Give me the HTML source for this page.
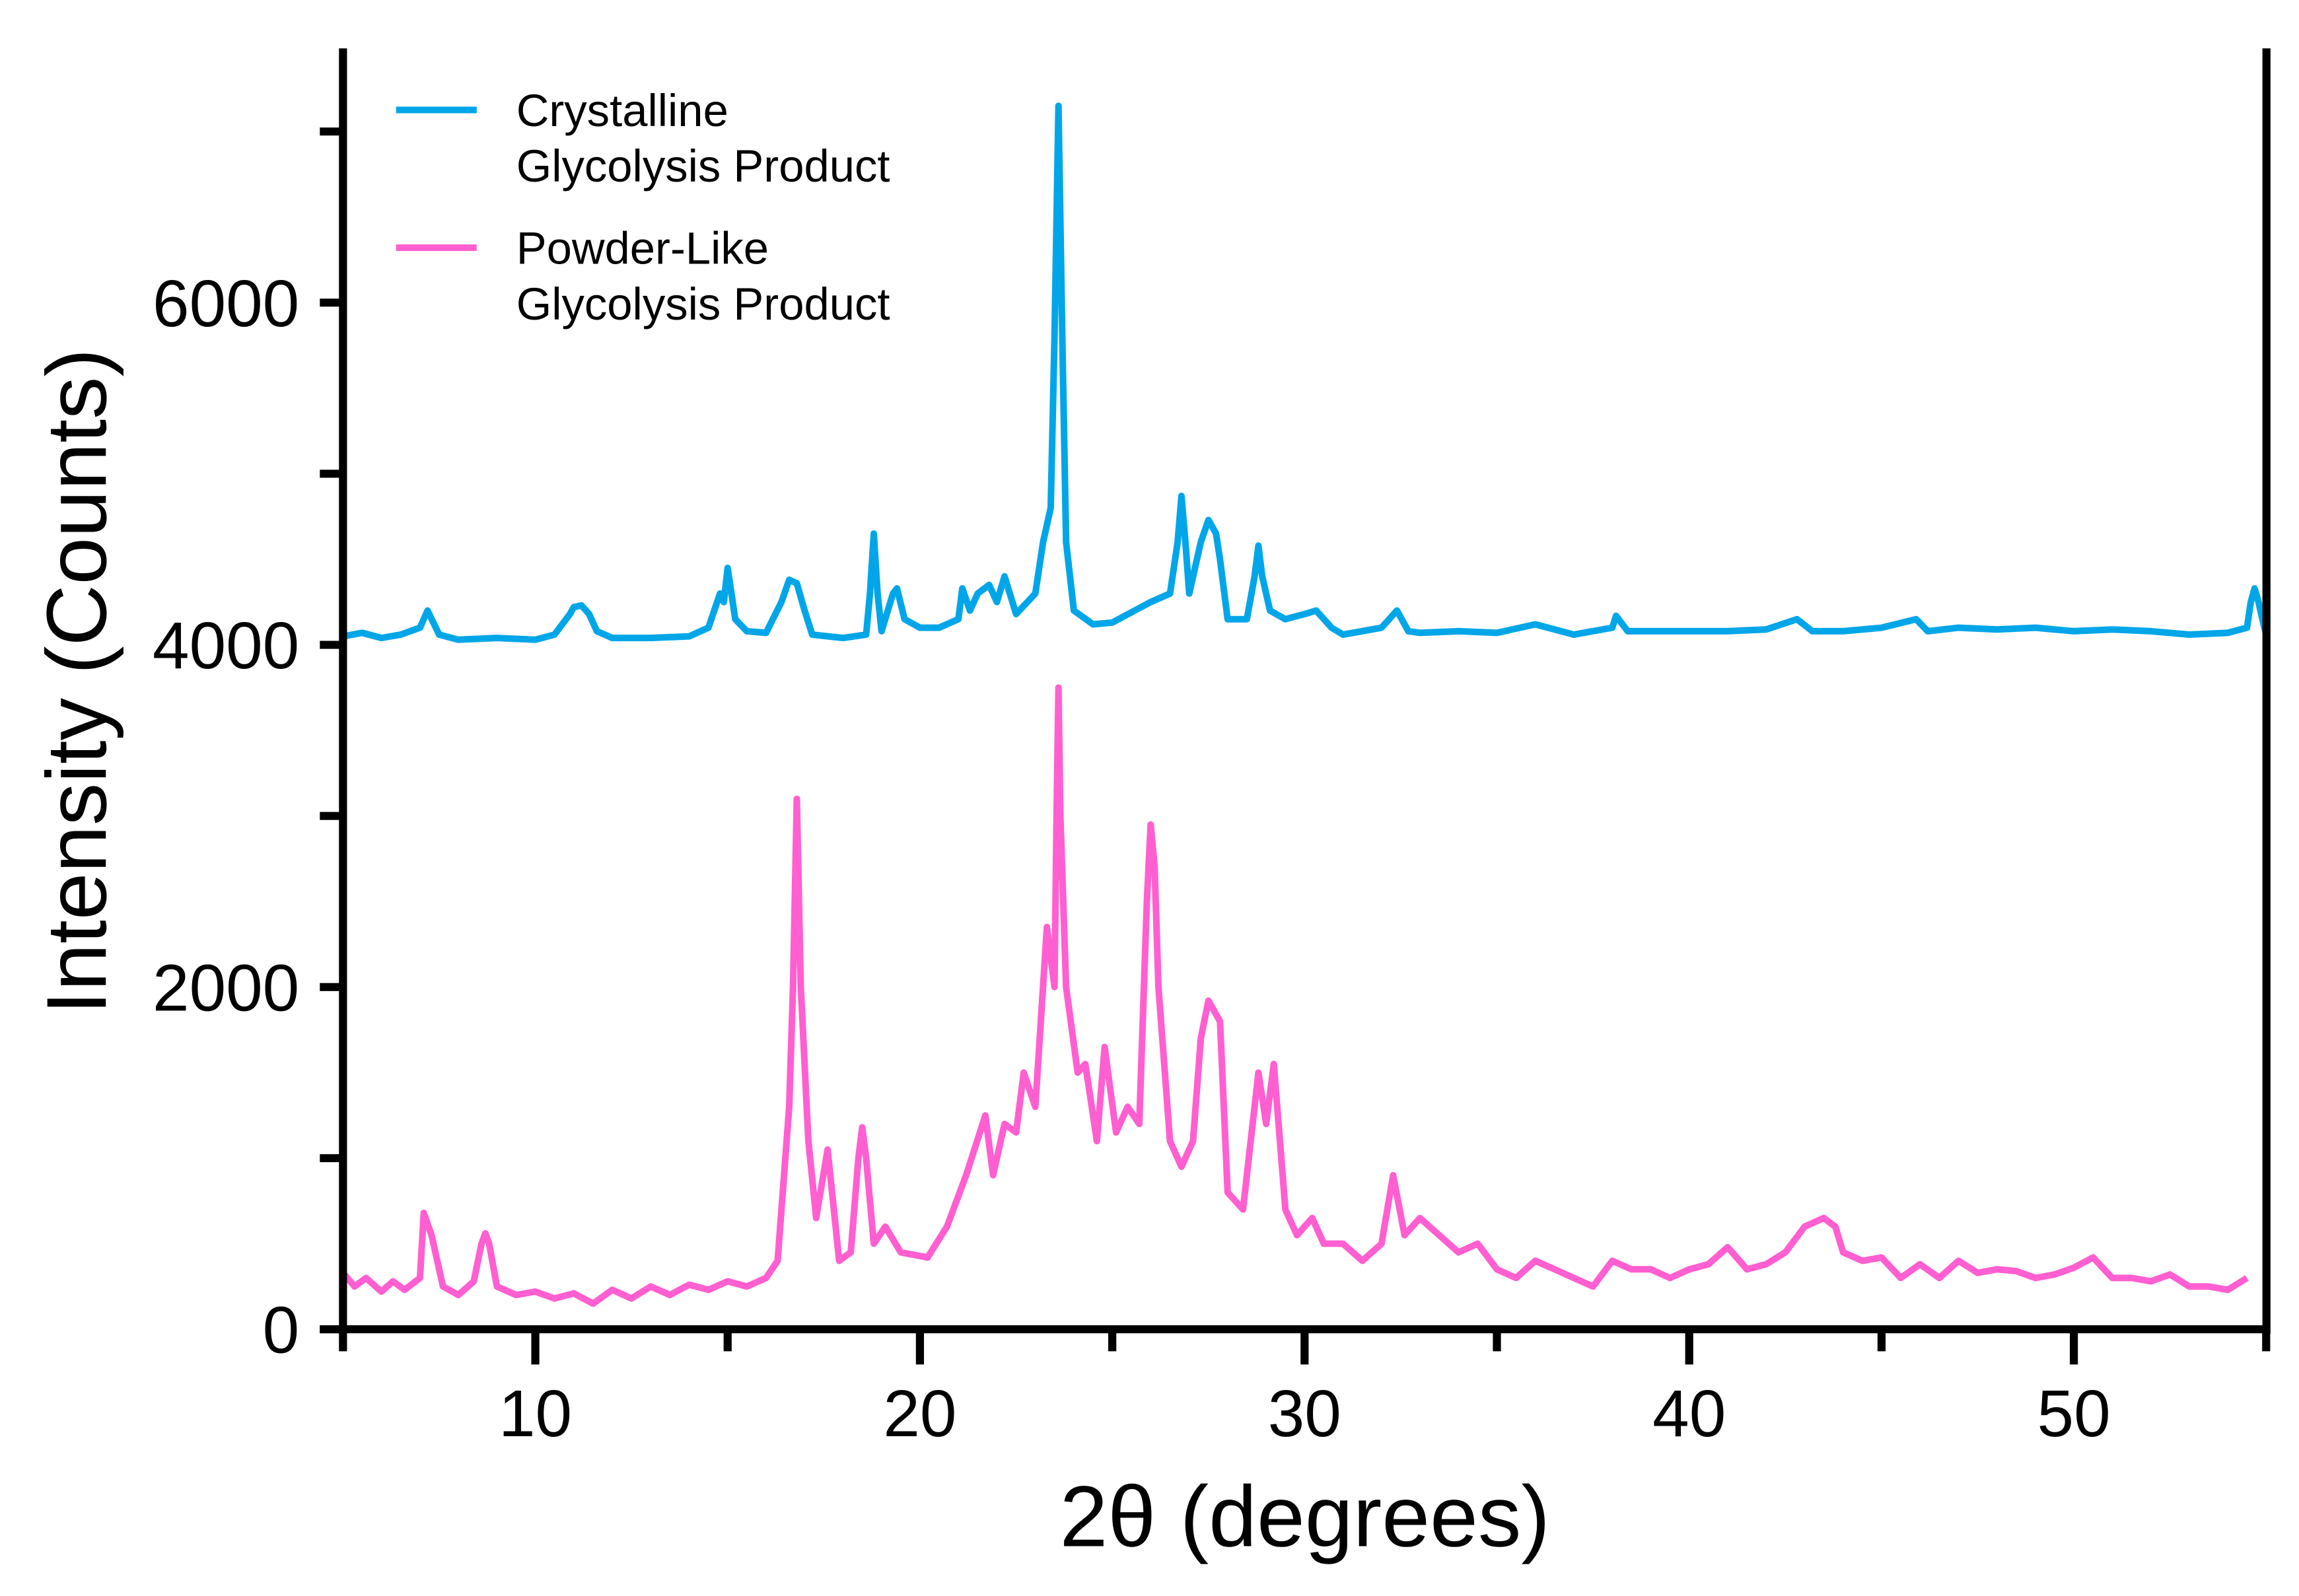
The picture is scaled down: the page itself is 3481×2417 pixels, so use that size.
<!DOCTYPE html>
<html><head><meta charset="utf-8"><style>html,body{margin:0;padding:0;background:#fff}svg{display:block}</style></head>
<body>
<svg width="3481" height="2417" viewBox="0 0 1568 1089" xmlns="http://www.w3.org/2000/svg" font-family="Liberation Sans, Arial, sans-serif">
<g id="plot"></g>
<g id="axes"></g>
<g>
<line x1="270" y1="75" x2="325" y2="75" stroke="#00a6e8" stroke-width="4.5"/>
<text x="352" y="86" font-size="31">Crystalline</text>
<text x="352" y="124" font-size="31">Glycolysis Product</text>
<line x1="270" y1="169" x2="325" y2="169" stroke="#ff5fd0" stroke-width="4.5"/>
<text x="352" y="180" font-size="31">Powder-Like</text>
<text x="352" y="218" font-size="31">Glycolysis Product</text>
</g>
<text x="890" y="1055" font-size="59" text-anchor="middle">2θ (degrees)</text>
<text transform="translate(72,465) rotate(-90)" font-size="58" text-anchor="middle">Intensity (Counts)</text>
</svg>
<script>
const crystX=[5,5.5,6,6.5,7,7.2,7.5,8,9,10,10.5,10.9,11,11.2,11.4,11.6,12,13,14,14.5,14.8,14.9,15,15.1,15.2,15.5,16,16.4,16.6,16.8,17,17.2,18,18.6,18.7,18.8,18.9,19,19.3,19.4,19.6,20,20.5,21,21.1,21.3,21.5,21.8,22,22.2,22.5,23,23.2,23.4,23.5,23.6,23.7,23.8,24,24.5,25,26,26.5,26.7,26.8,26.9,27,27.3,27.5,27.7,27.8,28,28.5,28.7,28.8,28.9,29.1,29.5,30,30.3,30.7,31,32,32.4,32.7,33,34,35,36,37,38,38.1,38.4,39,40,41,42,42.8,43.2,44,45,45.9,46.2,47,48,49,50,51,52,53,54,54.5,54.6,54.7,54.8,54.9,55];
const crystY=[4050,4070,4040,4060,4100,4200,4060,4030,4040,4030,4060,4180,4220,4230,4180,4080,4040,4040,4050,4100,4300,4250,4450,4300,4150,4080,4070,4250,4380,4360,4200,4060,4040,4060,4300,4650,4300,4080,4300,4330,4150,4100,4100,4150,4330,4200,4300,4350,4250,4400,4180,4300,4600,4800,5800,7150,5800,4600,4200,4120,4130,4250,4300,4600,4870,4600,4300,4600,4730,4650,4500,4150,4150,4400,4580,4400,4200,4150,4180,4200,4100,4060,4100,4200,4080,4070,4080,4070,4120,4060,4100,4170,4080,4080,4080,4080,4090,4150,4080,4080,4100,4150,4080,4100,4090,4100,4080,4090,4080,4060,4070,4100,4250,4330,4250,4150,4060];
const powX=[5,5.3,5.6,6,6.3,6.6,7,7.1,7.3,7.6,8,8.4,8.6,8.7,8.8,9,9.5,10,10.5,11,11.5,12,12.5,13,13.5,14,14.5,15,15.5,16,16.3,16.6,16.7,16.8,16.9,17.1,17.3,17.6,17.9,18.2,18.4,18.5,18.6,18.8,19.1,19.5,20.2,20.7,21.2,21.7,21.9,22.2,22.5,22.7,23,23.3,23.5,23.55,23.6,23.65,23.8,24.1,24.3,24.6,24.8,25.1,25.4,25.7,25.9,26,26.1,26.2,26.5,26.8,27.1,27.3,27.5,27.8,28,28.4,28.8,29,29.2,29.5,29.8,30.2,30.5,31,31.5,32,32.3,32.6,33,33.5,34,34.5,35,35.5,36,36.5,37,37.5,38,38.5,39,39.5,40,40.5,41,41.5,42,42.5,43,43.5,43.8,44,44.5,45,45.5,46,46.5,47,47.5,48,48.5,49,49.5,50,50.5,51,51.5,52,52.5,53,53.5,54,54.5,55];
const powY=[330,250,300,220,280,230,300,680,550,250,200,280,500,560,500,250,200,220,180,210,150,230,180,250,200,260,230,280,250,300,400,1300,2000,3100,2000,1100,650,1050,400,450,1000,1180,1000,500,600,450,420,600,900,1250,900,1200,1150,1500,1300,2350,2000,3000,3750,3000,2000,1500,1550,1100,1650,1150,1300,1200,2500,2950,2700,2000,1100,950,1100,1700,1920,1800,800,700,1500,1200,1550,700,550,650,500,500,400,500,900,550,650,550,450,500,350,300,400,350,300,250,400,350,350,300,350,380,480,350,380,450,600,650,600,450,400,420,300,380,300,400,330,350,340,300,320,360,420,300,300,280,320,250,250,230,300];
const X=v=>233.8+(v-5)*26.24, Y=v=>907-v*0.11675;
const ns='http://www.w3.org/2000/svg';
const plot=document.getElementById('plot'), axes=document.getElementById('axes');
function mk(t,a,p){const e=document.createElementNS(ns,t);for(const k in a)e.setAttribute(k,a[k]);p.appendChild(e);return e;}
function series(xs,ys,c,name){
 const d=xs.map((x,i)=>(i?'L':'M')+X(x).toFixed(1)+','+Y(ys[i]).toFixed(1)).join('');
 const p=mk('path',{d:d,fill:'none',stroke:c,'stroke-width':4.5,'stroke-linejoin':'round'},plot);
 
 
}
series(powX,powY,'#ff5fd0','powder-like-series');
series(crystX,crystY,'#00a6e8','crystalline-series');
const yl=mk('line',{x1:233.8,y1:33,x2:233.8,y2:910,stroke:'#000','stroke-width':5.5},axes);


const rl=mk('line',{x1:1546,y1:33,x2:1546,y2:910,stroke:'#000','stroke-width':5.5},axes);


const xl=mk('line',{x1:218,y1:907,x2:1548,y2:907,stroke:'#000','stroke-width':5.5},axes);


const yTicks=[0,1000,2000,3000,4000,5000,6000,7000];
const yLabels=['0','','2000','','4000','','6000',''];
yTicks.forEach((v,i)=>{
 mk('line',{x1:218,y1:Y(v),x2:234,y2:Y(v),stroke:'#000','stroke-width':5.5},axes);
 if(yLabels[i]){const t=mk('text',{x:204,y:Y(v)+16,'font-size':45,'text-anchor':'end'},axes);t.textContent=yLabels[i];
 
 }
});
const xTicks=[5,10,15,20,25,30,35,40,45,50,55];
const xLabels=['','10','','20','','30','','40','','50',''];
xTicks.forEach((v,i)=>{
 mk('line',{x1:X(v),y1:907,x2:X(v),y2:xLabels[i]?931:922,stroke:'#000','stroke-width':5.5},axes);
 if(xLabels[i]){const t=mk('text',{x:X(v),y:980,'font-size':45,'text-anchor':'middle'},axes);t.textContent=xLabels[i];
 
 }
});
</script>
</body></html>
